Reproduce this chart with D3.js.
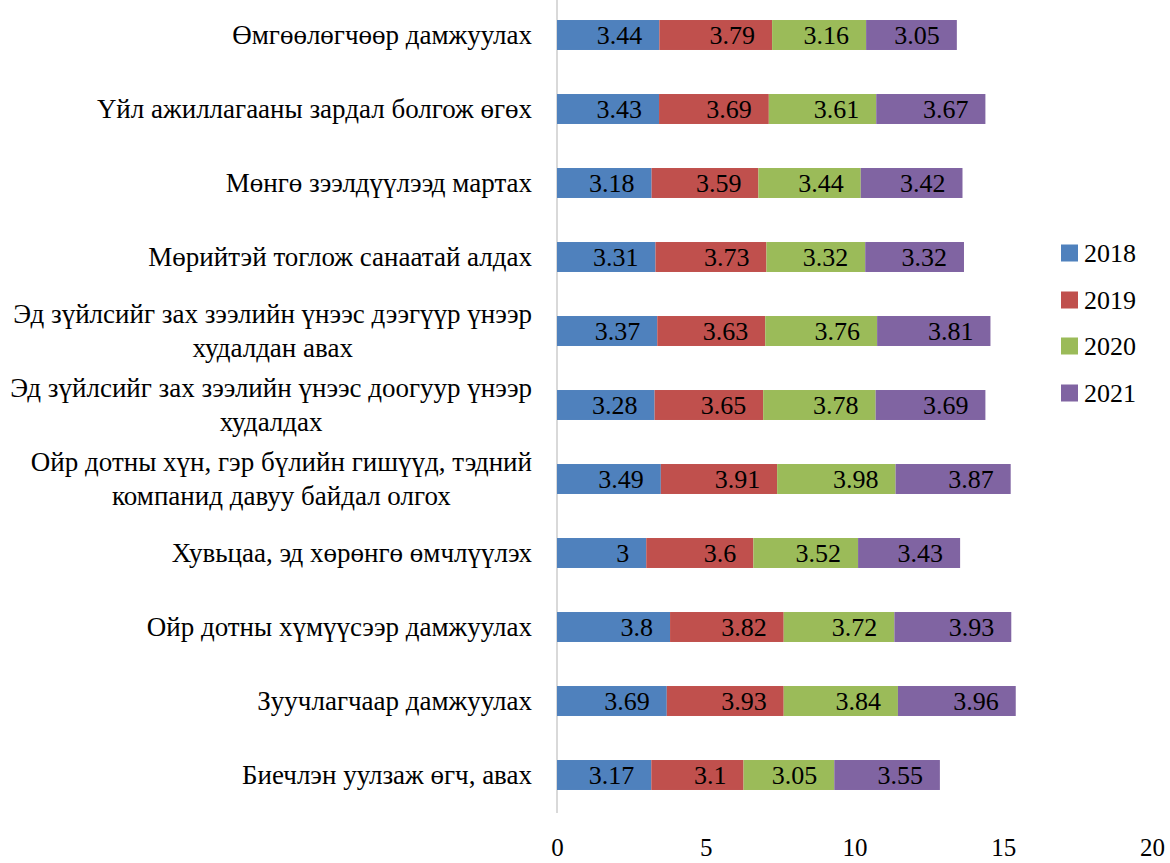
<!DOCTYPE html>
<html>
<head>
<meta charset="utf-8">
<script src="https://cdn.jsdelivr.net/npm/d3@7/dist/d3.min.js"></script>
<style>
  html, body { margin: 0; padding: 0; background: #fff; }
  svg { display: block; }
  text { font-family: "Liberation Serif", "DejaVu Serif", serif; fill: #000; }
</style>
</head>
<body>
<svg id="chart" width="1170" height="863"></svg>
<script>
const categories = [
  "Өмгөөлөгчөөр дамжуулах",
  "Үйл ажиллагааны зардал болгож өгөх",
  "Мөнгө зээлдүүлээд мартах",
  "Мөрийтэй тоглож санаатай алдах",
  "Эд зүйлсийг зах зээлийн үнээс дээгүүр үнээр\nхудалдан авах",
  "Эд зүйлсийг зах зээлийн үнээс доогуур үнээр\nхудалдах",
  "Ойр дотны хүн, гэр бүлийн гишүүд, тэдний\nкомпанид давуу байдал олгох",
  "Хувьцаа, эд хөрөнгө өмчлүүлэх",
  "Ойр дотны хүмүүсээр дамжуулах",
  "Зуучлагчаар дамжуулах",
  "Биечлэн уулзаж өгч, авах"
];
const seriesNames = ["2018", "2019", "2020", "2021"];
const values2018 = [3.44, 3.43, 3.18, 3.31, 3.37, 3.28, 3.49, 3,    3.8,  3.69, 3.17];
const values2019 = [3.79, 3.69, 3.59, 3.73, 3.63, 3.65, 3.91, 3.6,  3.82, 3.93, 3.1];
const values2020 = [3.16, 3.61, 3.44, 3.32, 3.76, 3.78, 3.98, 3.52, 3.72, 3.84, 3.05];
const values2021 = [3.05, 3.67, 3.42, 3.32, 3.81, 3.69, 3.87, 3.43, 3.93, 3.96, 3.55];
const xTicks = [0, 5, 10, 15, 20];
const colors = ["#4F81BD", "#C0504D", "#9BBB59", "#8064A2"];

const seriesValues = [values2018, values2019, values2020, values2021];
const rows = categories.map((c, i) => {
  const r = { category: c };
  seriesNames.forEach((s, j) => { r[s] = seriesValues[j][i]; });
  return r;
});
const stacked = d3.stack().keys(seriesNames)(rows);

const svg = d3.select("#chart");
const x = d3.scaleLinear().domain([0, 20]).range([557, 1152]);
const y = d3.scaleBand().domain(categories).range([-2, 812]).paddingInner(0.595).paddingOuter(0.2975);

const FS = 26;
const CAT_FS = 27;

// axis line (vertical category axis)
svg.append("line")
  .attr("x1", x(0)).attr("x2", x(0))
  .attr("y1", 0).attr("y2", 813)
  .attr("stroke", "#D9D9D9").attr("stroke-width", 2);

// bars
const g = svg.append("g");
stacked.forEach((layer, j) => {
  g.selectAll(null).data(layer).enter().append("rect")
    .attr("x", d => x(d[0]))
    .attr("width", d => x(d[1]) - x(d[0]))
    .attr("y", d => y(d.data.category))
    .attr("height", y.bandwidth())
    .attr("fill", colors[j]);
  g.selectAll(null).data(layer).enter().append("text")
    .attr("x", d => x(d[1]) - 17)
    .attr("y", d => y(d.data.category) + y.bandwidth() / 2)
    .attr("dy", "0.35em")
    .attr("text-anchor", "end")
    .attr("font-size", FS)
    .text(d => String(d.data[seriesNames[j]]));
});

// category labels
const labelRight = 532;
categories.forEach(c => {
  const lines = c.split("\n");
  const cy = y(c) + y.bandwidth() / 2;
  const lh = 34;
  const t = svg.append("text").attr("font-size", CAT_FS).attr("text-anchor", "middle");
  const tspans = lines.map((ln, k) => t.append("tspan")
    .attr("y", cy + (k - (lines.length - 1) / 2) * lh)
    .attr("dy", "0.35em")
    .text(ln));
  let w = 0;
  tspans.forEach(ts => { w = Math.max(w, ts.node().getComputedTextLength()); });
  tspans.forEach(ts => ts.attr("x", labelRight - w / 2));
});

// x axis tick labels
const xAxis = d3.axisBottom(x).tickValues(xTicks).tickSize(0).tickPadding(0);
const ax = svg.append("g").attr("transform", "translate(0,856)").call(xAxis);
ax.select(".domain").remove();
ax.selectAll("text")
  .attr("font-size", 25)
  .attr("font-family", "Liberation Serif, DejaVu Serif, serif")
  .attr("fill", "#000")
  .attr("y", 0).attr("dy", 0);

// legend
const legendY = [253, 300, 346, 393];
seriesNames.forEach((s, j) => {
  svg.append("rect")
    .attr("x", 1061).attr("y", legendY[j] - 8.5)
    .attr("width", 17).attr("height", 17)
    .attr("fill", colors[j]);
  svg.append("text")
    .attr("x", 1084).attr("y", legendY[j])
    .attr("dy", "0.35em")
    .attr("font-size", FS)
    .text(s);
});
</script>
</body>
</html>
